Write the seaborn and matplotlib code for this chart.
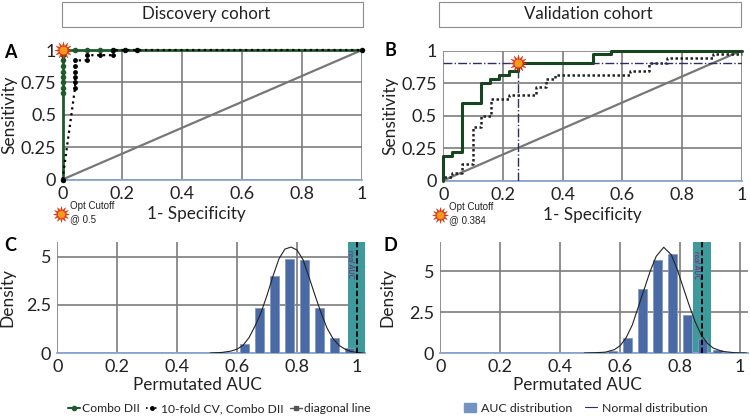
import matplotlib
matplotlib.use("Agg")
import matplotlib.pyplot as plt
from matplotlib.lines import Line2D
from matplotlib.patches import Patch, Rectangle
import seaborn as sns

# ROC data, panel A
a_combo_x = [0, 0, 0, 0, 0, 0, 0, 0, 0, 0, 0.042, 0.083, 0.125, 0.167, 0.208, 0.25, 1]
a_combo_y = [0, 0.67, 0.71, 0.75, 0.79, 0.83, 0.875, 0.92, 0.96, 1, 1, 1, 1, 1, 1, 1, 1]
a_cv_x = [0, 0.042, 0.042, 0.042, 0.042, 0.042, 0.042, 0.083, 0.083, 0.125, 0.167, 0.167, 0.208, 0.25, 1]
a_cv_y = [0, 0.71, 0.75, 0.79, 0.83, 0.875, 0.92, 0.92, 0.96, 0.96, 0.96, 1, 1, 1, 1]
a_cutoff = (0, 1)

# ROC data, panel B
b_combo_x = [0, 0, 0.03, 0.03, 0.0625, 0.0625, 0.125, 0.125, 0.156, 0.156, 0.1875, 0.1875,
             0.22, 0.22, 0.25, 0.25, 0.5, 0.5, 0.5625, 0.5625, 1]
b_combo_y = [0, 0.19, 0.19, 0.22, 0.22, 0.6, 0.6, 0.75, 0.75, 0.78, 0.78, 0.81,
             0.81, 0.845, 0.845, 0.905, 0.905, 0.97, 0.97, 1, 1]
b_cv_x = [0, 0, 0.03, 0.03, 0.0625, 0.0625, 0.1, 0.1, 0.125, 0.125, 0.16, 0.16, 0.22, 0.22,
          0.31, 0.31, 0.345, 0.345, 0.375, 0.375, 0.625, 0.625, 0.69, 0.69, 0.75, 0.75,
          0.905, 0.905, 1]
b_cv_y = [0, 0.03, 0.03, 0.06, 0.06, 0.125, 0.125, 0.41, 0.41, 0.5, 0.5, 0.625, 0.625, 0.655,
          0.655, 0.72, 0.72, 0.78, 0.78, 0.81, 0.81, 0.845, 0.845, 0.905, 0.905, 0.94,
          0.94, 0.97, 0.97]
b_cutoff = (0.25, 0.905)

diag = [0, 1]

# Permutation histograms
c_bins = [0.625, 0.675, 0.725, 0.775, 0.825, 0.875, 0.925, 0.975]
c_density = [0.45, 2.35, 4.0, 4.88, 4.83, 2.35, 0.8, 0.24]
c_curve_x = [0.51, 0.55, 0.58, 0.60, 0.62, 0.64, 0.66, 0.68, 0.70, 0.72, 0.74, 0.76, 0.78,
             0.80, 0.82, 0.84, 0.86, 0.88, 0.90, 0.92, 0.94, 0.96, 0.98, 1.0, 1.025]
c_curve_y = [0.0, 0.03, 0.1, 0.2, 0.4, 0.8, 1.4, 2.1, 3.0, 4.0, 4.9, 5.4, 5.5,
             5.35, 4.85, 3.95, 3.0, 2.1, 1.3, 0.75, 0.4, 0.2, 0.08, 0.03, 0.0]
c_real_auc = 1.0
c_band = (0.97, 1.027)

d_bins = [0.575, 0.625, 0.675, 0.725, 0.775, 0.825, 0.875, 0.925]
d_density = [0.12, 0.93, 3.92, 5.65, 6.04, 2.32, 0.85, 0.18]
d_curve_x = [0.48, 0.52, 0.55, 0.58, 0.60, 0.62, 0.64, 0.66, 0.68, 0.70, 0.72, 0.745, 0.77,
             0.79, 0.81, 0.83, 0.85, 0.87, 0.89, 0.91, 0.94, 0.98, 1.02]
d_curve_y = [0.0, 0.02, 0.05, 0.2, 0.45, 0.95, 1.7, 2.8, 3.9, 5.0, 5.9, 6.45, 6.0,
             5.1, 4.0, 2.9, 1.9, 1.1, 0.6, 0.3, 0.1, 0.02, 0.0]
d_real_auc = 0.873
d_band = (0.844, 0.903)

x_ticks = [0, 0.2, 0.4, 0.6, 0.8, 1]
x_labels = ["0", "0.2", "0.4", "0.6", "0.8", "1"]
roc_ticks = [0, 0.25, 0.5, 0.75, 1]
roc_labels = ["0", "0.25", "0.5", "0.75", "1"]
dens_ticks = [0, 2.5, 5]
dens_labels = ["0", "2.5", "5"]

GREEN = "#1f5a2e"
DARK_GREEN = "#17451f"
GRAY = "#7d7d7d"
BLUE = "#4a6aa5"
TEAL = "#3f9a9c"
NAVY = "#2b2f66"
AXIS = "#8aa6d0"
TEXT = "#222222"

sns.set_theme(style="white")
plt.rcParams["font.family"] = ["Lato", "DejaVu Sans"]

W, H = 750, 418
fig = plt.figure(figsize=(7.5, 4.18), dpi=100)


def make_axes(left, right, top, bottom):
    return fig.add_axes([left / W, 1 - bottom / H, (right - left) / W, (bottom - top) / H])


def style_axes(ax, xlim, ylim, yticks, ylabels, ylabel, xlabel, xlabel_pos, ylabel_x):
    ax.set_xlim(*xlim)
    ax.set_ylim(*ylim)
    ax.set_xticks(x_ticks, x_labels)
    ax.set_yticks(yticks, ylabels)
    ax.grid(True, color=GRAY, lw=1.2)
    ax.set_axisbelow(True)
    for side in ["top", "right", "left"]:
        ax.spines[side].set_visible(False)
    ax.spines["bottom"].set_color(AXIS)
    ax.spines["bottom"].set_linewidth(1.3)
    ax.tick_params(axis="both", labelsize=13, length=3, color=GRAY, pad=1.5, labelcolor=TEXT)
    ax.set_xlabel(xlabel, fontsize=12.3, color=TEXT)
    ax.set_ylabel(ylabel, fontsize=12.5, color=TEXT)
    ax.yaxis.set_label_coords(ylabel_x, 0.5)
    ax.xaxis.set_label_coords(*xlabel_pos)


def star(ax, x, y, size=150):
    ax.scatter([x], [y], s=size, marker=(12, 1, 0), color="#e0300c", edgecolor="#e0300c",
               linewidth=0.3, zorder=8, clip_on=False)
    ax.scatter([x], [y], s=size * 0.22, marker="o", color="#f59a1c", linewidth=0,
               zorder=9, clip_on=False)


# Panel A
ax_a = make_axes(62.5, 362, 50, 179.5)
style_axes(ax_a, (0, 1), (0, 1), roc_ticks, roc_labels, "Sensitivity", "1- Specificity", (0.446, -0.205), -0.15)
sns.lineplot(x=diag, y=diag, color="#777777", lw=1.6, ax=ax_a, zorder=3)
sns.lineplot(x=a_combo_x, y=a_combo_y, sort=False, estimator=None, color=GREEN, lw=2,
             marker="o", markersize=4, markeredgewidth=0, ax=ax_a, zorder=4, clip_on=False)
sns.lineplot(x=a_cv_x, y=a_cv_y, sort=False, estimator=None, color="black", lw=1.6,
             linestyle=":", marker="o", markersize=3.5, markeredgewidth=0, ax=ax_a, zorder=5,
             clip_on=False)
star(ax_a, *a_cutoff)

# Panel B
ax_b = make_axes(443.3, 741.7, 50.5, 180.5)
style_axes(ax_b, (0, 1), (0, 1), roc_ticks, roc_labels, "Sensitivity", "1- Specificity", (0.5, -0.205), -0.15)
sns.lineplot(x=diag, y=diag, color="#777777", lw=1.6, ax=ax_b, zorder=3)
sns.lineplot(x=b_cv_x, y=b_cv_y, sort=False, estimator=None, color=TEXT, lw=1.8,
             linestyle=(0, (1, 1)), ax=ax_b, zorder=4, clip_on=False)
sns.lineplot(x=b_combo_x, y=b_combo_y, sort=False, estimator=None, color=DARK_GREEN, lw=2.2,
             ax=ax_b, zorder=5, clip_on=False)
ax_b.axhline(b_cutoff[1], color=NAVY, lw=1, linestyle="-.", zorder=4)
ax_b.plot([b_cutoff[0], b_cutoff[0]], [0, b_cutoff[1]], color=NAVY, lw=1, linestyle="-.", zorder=4)
star(ax_b, *b_cutoff)

# Panel C
ax_c = make_axes(57.3, 365, 241.7, 353)
style_axes(ax_c, (0, 1.027), (0, 5.78), dens_ticks, dens_labels, "Density", "Permutated AUC", (0.456, -0.22), -0.135)
ax_c.axvspan(*c_band, color=TEAL, lw=0, zorder=1.5)
sns.barplot(x=c_bins, y=c_density, native_scale=True, color=BLUE, saturation=1, width=0.6,
            edgecolor="#8598bf", linewidth=0.6, ax=ax_c, zorder=3)
sns.lineplot(x=c_curve_x, y=c_curve_y, color=TEXT, lw=0.8, ax=ax_c, zorder=4)
ax_c.axvline(c_real_auc, color="black", lw=1.3, linestyle=(0, (3, 1.5)), zorder=5)
ax_c.text(0.98, 5.35, "real AUC", rotation=270, fontsize=5.5, color="#8a1a88", style="italic",
          ha="center", va="top", zorder=6)

# Panel D
ax_d = make_axes(440.3, 747.7, 241.7, 353)
style_axes(ax_d, (0, 1.025), (0, 6.79), dens_ticks, dens_labels, "Density", "Permutated AUC", (0.446, -0.22), -0.145)
ax_d.axvspan(*d_band, color=TEAL, lw=0, zorder=1.5)
sns.barplot(x=d_bins, y=d_density, native_scale=True, color=BLUE, saturation=1, width=0.6,
            edgecolor="#8598bf", linewidth=0.6, ax=ax_d, zorder=3)
sns.lineplot(x=d_curve_x, y=d_curve_y, color=TEXT, lw=0.8, ax=ax_d, zorder=4)
ax_d.axvline(d_real_auc, color="black", lw=1.3, linestyle=(0, (3, 1.5)), zorder=5)
ax_d.text(0.853, 6.2, "real AUC", rotation=270, fontsize=5.5, color="#8a1a88", style="italic",
          ha="center", va="top", zorder=6)

# Cohort header boxes
for left, right, centre, label in [(61.5, 363, 206, "Discovery cohort"),
                                   (439, 741, 588, "Validation cohort")]:
    fig.add_artist(Rectangle((left / W, 1 - 27 / H), (right - left) / W, 25 / H, fill=False,
                             edgecolor="#8c8c8c", lw=0.8, transform=fig.transFigure))
    fig.text(centre / W, 1 - 14 / H, label, ha="center", va="center", fontsize=12.2, color=TEXT)

# Panel letters
for px, py, letter in [(10, 52, "A"), (390, 50, "B"), (10, 246, "C"), (390, 246, "D")]:
    fig.text(px / W, 1 - py / H, letter, ha="center", va="center", fontsize=13,
             fontweight="bold", color="black")

# Cutoff keys below the ROC panels
overlay = fig.add_axes([0, 0, 1, 1], facecolor="none")
overlay.set_xlim(0, W)
overlay.set_ylim(H, 0)
overlay.axis("off")
for px, py, label in [(61, 214, "Opt Cutoff\n@ 0.5"), (440, 215, "Opt Cutoff\n@ 0.384")]:
    star(overlay, px, py, size=130)
    overlay.text(px + 9, py - 1, label, fontsize=7, family="Liberation Sans", va="center",
                 linespacing=1.4, color=TEXT)

# Legends
combo_handles = [
    Line2D([], [], color=GREEN, lw=1.5, marker="o", markersize=3, label="Combo DII"),
    Line2D([], [], color="black", lw=1.2, linestyle=":", marker="o", markersize=2.5,
           label="10-fold CV, Combo DII"),
    Line2D([], [], color="#555555", lw=1, marker="s", markersize=3, label="diagonal line"),
]
fig.legend(handles=combo_handles, loc="center left", bbox_to_anchor=(68 / W, 1 - 409 / H), ncol=3,
           frameon=False, fontsize=8.7, handlelength=1.0, handletextpad=0.2, columnspacing=0.5,
           borderaxespad=0, borderpad=0, labelcolor=TEXT)
dist_handles = [
    Patch(color="#7293c4", label="AUC distribution"),
    Line2D([], [], color=NAVY, lw=0.8, label="Normal distribution"),
]
fig.legend(handles=dist_handles, loc="center left", bbox_to_anchor=(464 / W, 1 - 408 / H), ncol=2,
           frameon=False, fontsize=8.9, handlelength=1.0, handletextpad=0.4, columnspacing=1.0,
           borderaxespad=0, borderpad=0, labelcolor=TEXT)

fig.savefig("out.png", dpi=100)
